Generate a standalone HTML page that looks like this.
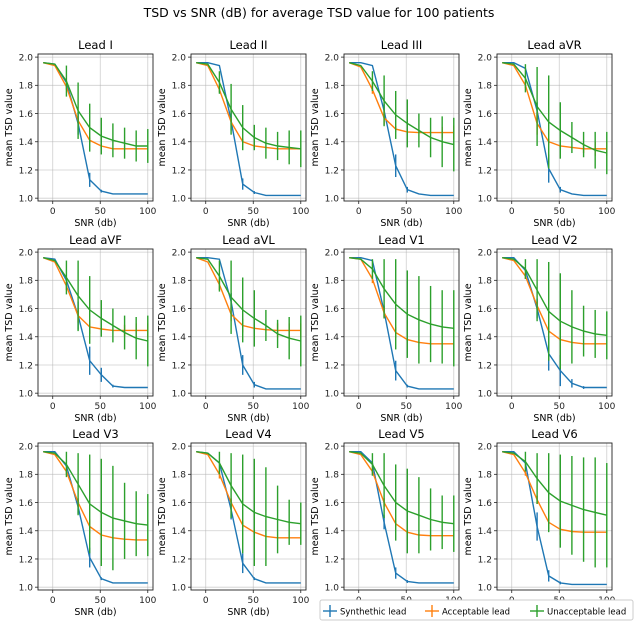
<!DOCTYPE html>
<html><head><meta charset="utf-8"><style>
body{margin:0;background:#fff}
svg{display:block;font-family:"DejaVu Sans","Liberation Sans",sans-serif}
</style></head><body>
<svg id="chart" width="638" height="622" viewBox="0 0 638 622">
<rect width="638" height="622" fill="#fff"/>
<text x="319" y="17" text-anchor="middle" font-size="12.5" fill="#000">TSD vs SNR (dB) for average TSD value for 100 patients</text>
</svg>
<script>
const xs=[-10,2.2,14.4,26.7,38.9,51.1,63.3,75.6,87.8,100];
const leads=["Lead I","Lead II","Lead III","Lead aVR","Lead aVF","Lead aVL","Lead V1","Lead V2","Lead V3","Lead V4","Lead V5","Lead V6"];
const synMean=[
[1.96,1.95,1.82,1.53,1.13,1.05,1.03,1.03,1.03,1.03],
[1.96,1.96,1.94,1.55,1.10,1.04,1.02,1.02,1.02,1.02],
[1.96,1.96,1.94,1.62,1.23,1.06,1.03,1.02,1.02,1.02],
[1.96,1.96,1.92,1.62,1.21,1.06,1.03,1.02,1.02,1.02],
[1.96,1.95,1.80,1.55,1.23,1.13,1.05,1.04,1.04,1.04],
[1.96,1.96,1.95,1.65,1.20,1.06,1.03,1.03,1.03,1.03],
[1.96,1.96,1.94,1.58,1.16,1.05,1.03,1.03,1.03,1.03],
[1.96,1.96,1.87,1.60,1.28,1.16,1.07,1.04,1.04,1.04],
[1.96,1.96,1.86,1.57,1.21,1.06,1.03,1.03,1.03,1.03],
[1.96,1.95,1.88,1.55,1.17,1.06,1.03,1.03,1.03,1.03],
[1.96,1.96,1.88,1.46,1.10,1.04,1.03,1.03,1.03,1.03],
[1.96,1.96,1.88,1.43,1.08,1.03,1.02,1.02,1.02,1.02]];
const synErr=[
[0,0,0,0.08,0.05,0.01,0,0,0,0],[0,0,0,0.07,0.04,0.01,0,0,0,0],[0,0,0,0.05,0.08,0.02,0,0,0,0],
[0,0,0,0.06,0.1,0.02,0,0,0,0],[0,0,0,0.1,0.1,0.05,0.01,0,0,0],[0,0,0,0.06,0.07,0.02,0,0,0,0],
[0,0,0,0.04,0.07,0.01,0,0,0,0],[0,0,0,0.07,0.12,0.11,0.03,0.01,0,0],[0,0,0,0.05,0.07,0.01,0,0,0,0],
[0,0,0,0.07,0.07,0.01,0,0,0,0],[0,0,0,0.05,0.04,0.01,0,0,0,0],[0,0,0,0.1,0.04,0.01,0,0,0,0]];
const accMean=[
[1.96,1.94,1.79,1.55,1.41,1.37,1.35,1.35,1.35,1.35],
[1.96,1.94,1.77,1.54,1.40,1.37,1.36,1.35,1.35,1.35],
[1.96,1.93,1.77,1.57,1.49,1.47,1.465,1.465,1.465,1.465],
[1.96,1.94,1.80,1.53,1.40,1.37,1.36,1.35,1.35,1.35],
[1.96,1.93,1.76,1.55,1.47,1.455,1.445,1.445,1.445,1.445],
[1.96,1.93,1.77,1.56,1.48,1.46,1.45,1.445,1.445,1.445],
[1.96,1.95,1.81,1.57,1.43,1.38,1.36,1.35,1.35,1.35],
[1.96,1.94,1.83,1.62,1.44,1.38,1.36,1.35,1.35,1.35],
[1.96,1.94,1.82,1.60,1.43,1.37,1.35,1.34,1.335,1.335],
[1.96,1.94,1.80,1.60,1.44,1.39,1.36,1.35,1.35,1.35],
[1.96,1.94,1.82,1.60,1.45,1.39,1.37,1.365,1.365,1.365],
[1.96,1.94,1.81,1.62,1.46,1.41,1.395,1.39,1.39,1.39]];
const accErr=[
[0,0,0.02,0.02,0.02,0.01,0,0,0,0],[0,0,0.02,0.02,0.02,0.01,0,0,0,0],[0,0,0.03,0.05,0.02,0,0,0,0.04,0.05],
[0,0,0.02,0.08,0.02,0.01,0,0.03,0.05,0.05],[0,0,0.03,0.05,0.05,0,0,0.04,0.05,0.05],[0,0,0.04,0.05,0.05,0,0,0.05,0.05,0.05],
[0,0,0.03,0.04,0.04,0.01,0,0,0,0],[0,0,0.02,0.03,0.02,0.01,0,0,0,0],[0,0,0.02,0.03,0.05,0.01,0,0,0,0],
[0,0,0.03,0.03,0.02,0.01,0,0,0,0],[0,0,0.02,0.03,0.02,0.01,0,0,0,0],[0,0,0.02,0.03,0.05,0.04,0.01,0.01,0.01,0.01]];
const unaccMean=[
[1.96,1.95,1.83,1.62,1.50,1.44,1.41,1.39,1.37,1.37],
[1.96,1.95,1.82,1.63,1.50,1.43,1.39,1.37,1.36,1.35],
[1.96,1.94,1.83,1.69,1.59,1.53,1.48,1.43,1.40,1.38],
[1.96,1.95,1.85,1.65,1.54,1.48,1.43,1.38,1.34,1.32],
[1.96,1.94,1.82,1.69,1.59,1.53,1.48,1.43,1.39,1.37],
[1.96,1.95,1.83,1.68,1.59,1.53,1.48,1.42,1.39,1.37],
[1.96,1.95,1.88,1.74,1.63,1.56,1.52,1.49,1.47,1.46],
[1.96,1.95,1.88,1.73,1.58,1.51,1.47,1.44,1.42,1.41],
[1.96,1.95,1.87,1.73,1.59,1.53,1.49,1.47,1.45,1.44],
[1.96,1.95,1.88,1.72,1.59,1.53,1.50,1.48,1.46,1.45],
[1.96,1.95,1.87,1.72,1.60,1.54,1.51,1.48,1.46,1.45],
[1.96,1.95,1.89,1.77,1.67,1.61,1.58,1.55,1.53,1.51]];
const unaccErr=[
[0,0,0.11,0.2,0.17,0.13,0.12,0.11,0.11,0.12],[0,0,0.08,0.18,0.16,0.09,0.11,0.1,0.12,0.13],
[0,0,0.07,0.18,0.17,0.17,0.12,0.14,0.18,0.19],[0,0,0.1,0.28,0.33,0.2,0.11,0.09,0.13,0.15],
[0,0,0.12,0.25,0.24,0.13,0.12,0.12,0.15,0.18],[0,0,0.11,0.26,0.23,0.2,0.11,0.1,0.15,0.18],
[0,0,0.07,0.21,0.32,0.31,0.31,0.27,0.26,0.27],[0,0,0.07,0.22,0.35,0.34,0.26,0.18,0.17,0.17],
[0,0,0.09,0.22,0.35,0.38,0.37,0.27,0.23,0.22],[0,0,0.08,0.23,0.35,0.38,0.35,0.24,0.16,0.15],
[0,0,0.08,0.23,0.27,0.3,0.27,0.22,0.19,0.2],[0,0,0.07,0.18,0.28,0.33,0.35,0.37,0.39,0.37]];
const xTicks=[0,50,100];
const yTicks=[1.0,1.2,1.4,1.6,1.8,2.0];

const NS="http://www.w3.org/2000/svg";
const svg=document.getElementById('chart');
function mk(tag,attrs,parent){const e=document.createElementNS(NS,tag);for(const k in attrs)e.setAttribute(k,attrs[k]);(parent||svg).appendChild(e);return e;}
const colors=["#1f77b4","#ff7f0e","#2ca02c"];
const W=115,H=147;
const tops=[54,249,443];
for(let p=0;p<12;p++){
  const c=p%4,r=Math.floor(p/4);
  const L=38+153*c,T=tops[r];
  const xS=v=>L+(v+15.5)/121*W;
  const yS=v=>T+(2.022-v)/1.042*H;
  const g=mk('g',{});
  
  
  xTicks.forEach(t=>{mk('line',{x1:xS(t),x2:xS(t),y1:T,y2:T+H,stroke:'#b0b0b0','stroke-width':0.8,opacity:0.6},g);
    const tx=mk('text',{x:xS(t),y:T+H+13,'text-anchor':'middle','font-size':9,fill:'#222'},g);tx.textContent=t;
    mk('line',{x1:xS(t),x2:xS(t),y1:T+H,y2:T+H+3,stroke:'#222','stroke-width':0.8},g);});
  yTicks.forEach(t=>{mk('line',{x1:L,x2:L+W,y1:yS(t),y2:yS(t),stroke:'#b0b0b0','stroke-width':0.8,opacity:0.6},g);
    const ty=mk('text',{x:L-5,y:yS(t)+3.3,'text-anchor':'end','font-size':9,fill:'#222'},g);ty.textContent=t.toFixed(1);
    mk('line',{x1:L-3,x2:L,y1:yS(t),y2:yS(t),stroke:'#222','stroke-width':0.8},g);});
  const series=[[synMean[p],synErr[p]],[accMean[p],accErr[p]],[unaccMean[p],unaccErr[p]]];
  const snames=['synthetic','acceptable','unacceptable'];
  series.forEach((s,si)=>{
    const pts=xs.map((x,i)=>xS(x).toFixed(1)+','+yS(s[0][i]).toFixed(1)).join(' ');
    const pl=mk('polyline',{points:pts,fill:'none',stroke:colors[si],'stroke-width':1.4},g);
    
    
    xs.forEach((x,i)=>{if(s[1][i]>0){
      const eb=mk('line',{x1:xS(x),x2:xS(x),y1:yS(s[0][i]+s[1][i]),y2:yS(s[0][i]-s[1][i]),stroke:colors[si],'stroke-width':1.4},g);
      
      
    }});
  });
  mk('rect',{x:L,y:T,width:W,height:H,fill:'none',stroke:'#222','stroke-width':0.9},g);
  const tt=mk('text',{x:L+W/2,y:T-5,'text-anchor':'middle','font-size':11.5,fill:'#000'},g);tt.textContent=leads[p];
  
  
  const yl=mk('text',{x:0,y:0,'text-anchor':'middle','font-size':9.5,fill:'#000',transform:`translate(${L-26},${T+H/2}) rotate(-90)`},g);yl.textContent='mean TSD value';
  
  
  const xl=mk('text',{x:L+W/2,y:T+H+25,'text-anchor':'middle','font-size':9.5,fill:'#000'},g);xl.textContent='SNR (db)';
  
  
}
const lg=mk('g',{});


mk('rect',{x:320,y:600,width:313,height:20,fill:'#fff',stroke:'#ccc','stroke-width':1,rx:2},lg);
const lnames=['Synthethic lead','Acceptable lead','Unacceptable lead'];
const lx=[323,425,530];
lnames.forEach((n,i)=>{
  const e=mk('g',{},lg);
  
  
  mk('line',{x1:lx[i],x2:lx[i]+14,y1:611,y2:611,stroke:colors[i],'stroke-width':1.4},e);
  mk('line',{x1:lx[i]+7,x2:lx[i]+7,y1:605,y2:617,stroke:colors[i],'stroke-width':1.4},e);
  const t=mk('text',{x:lx[i]+17,y:614.5,'font-size':8.5,fill:'#000'},e);t.textContent=n;
});
</script>
</body></html>
